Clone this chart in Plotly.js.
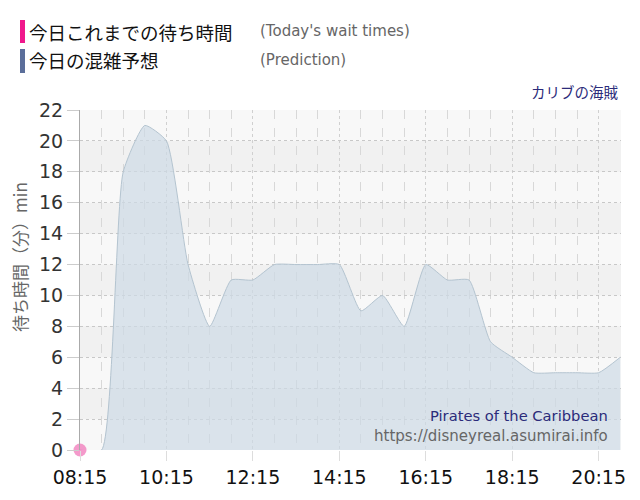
<!DOCTYPE html>
<html>
<head>
<meta charset="utf-8">
<script src="https://cdn.plot.ly/plotly-3.0.1.min.js"></script>
<style>body{margin:0;background:#fff}#chart{width:640px;height:500px}</style>
</head>
<body>
<div id="chart"></div>
<script>
// prediction, every 30 min
var predTimes = ['08:15','08:45','09:15','09:45','10:15','10:45','11:15','11:45','12:15','12:45',
  '13:15','13:45','14:15','14:45','15:15','15:45','16:15','16:45','17:15','17:45',
  '18:15','18:45','19:15','19:45','20:15','20:45'];
var predWaits = [0, 0, 18, 21, 20, 12, 8, 11, 11, 12,
  12, 12, 12, 9, 10, 8, 12, 11, 11, 7,
  6, 5, 5, 5, 5, 6];

// today's actual waits so far
var todayTimes = ['08:15'];
var todayWaits = [0];

var day = '2024-01-01 ';
function toDate(t) { return day + t + ':00'; }

var yTicks = [0, 2, 4, 6, 8, 10, 12, 14, 16, 18, 20, 22];

var W = 541, H = 340, L = 80, B = 450;
function px(x) { return (x - L) / W; }
function py(y) { return (B - y) / H; }

var trace1 = {
  x: predTimes.map(toDate),
  y: predWaits,
  type: 'scatter',
  mode: 'lines',
  line: {color: '#b4c4d0', width: 1, shape: 'spline', smoothing: 0.5},
  fill: 'tozeroy',
  fillcolor: 'rgba(205,218,230,0.7)',
  hoverinfo: 'x+y'
};

var trace2 = {
  x: todayTimes.map(toDate),
  y: todayWaits,
  type: 'scatter',
  mode: 'markers',
  marker: {color: 'rgba(240,120,185,0.75)', size: 13},
  cliponaxis: false
};

// alternating background bands
var shapes = [];
for (var i = 1; i < yTicks.length - 1; i += 2) {
  shapes.push({type: 'rect', xref: 'paper', yref: 'y', x0: 0, x1: 1,
    y0: yTicks[i], y1: yTicks[i + 1], fillcolor: '#f1f1f1', line: {width: 0}, layer: 'below'});
}
shapes.push({type: 'rect', xref: 'paper', yref: 'paper', x0: px(20), x1: px(25), y0: py(43), y1: py(20),
  fillcolor: '#f0188c', line: {width: 0}});
shapes.push({type: 'rect', xref: 'paper', yref: 'paper', x0: px(20), x1: px(25), y0: py(73), y1: py(49),
  fillcolor: '#5b6e9a', line: {width: 0}});

var jp = '"Noto Sans CJK JP", sans-serif';
var annotations = [
  {text: '今日これまでの待ち時間', x: px(27), y: py(32), xref: 'paper', yref: 'paper',
    xanchor: 'left', yanchor: 'middle', showarrow: false, font: {family: jp, size: 18.5, color: '#111'}},
  {text: "(Today's wait times)", x: px(258), y: py(31), xref: 'paper', yref: 'paper',
    xanchor: 'left', yanchor: 'middle', showarrow: false, font: {family: 'DejaVu Sans', size: 15, color: '#666'}},
  {text: '今日の混雑予想', x: px(27), y: py(60), xref: 'paper', yref: 'paper',
    xanchor: 'left', yanchor: 'middle', showarrow: false, font: {family: jp, size: 18.5, color: '#111'}},
  {text: '(Prediction)', x: px(258), y: py(60), xref: 'paper', yref: 'paper',
    xanchor: 'left', yanchor: 'middle', showarrow: false, font: {family: 'DejaVu Sans', size: 15, color: '#666'}},
  {text: 'カリブの海賊', x: px(621), y: py(91), xref: 'paper', yref: 'paper',
    xanchor: 'right', yanchor: 'middle', showarrow: false, font: {family: jp, size: 14.5, color: '#2b2b7a'}},
  {text: 'Pirates of the Caribbean', x: px(610), y: py(415), xref: 'paper', yref: 'paper',
    xanchor: 'right', yanchor: 'middle', showarrow: false, font: {family: 'DejaVu Sans', size: 14.7, color: '#2b2b7a'}},
  {text: 'https://disneyreal.asumirai.info', x: px(610), y: py(436), xref: 'paper', yref: 'paper',
    xanchor: 'right', yanchor: 'middle', showarrow: false, font: {family: 'DejaVu Sans', size: 15, color: '#666'}},
  {text: '待ち時間（分）min', x: px(19), y: py(257), xref: 'paper', yref: 'paper', textangle: -90,
    xanchor: 'center', yanchor: 'middle', showarrow: false, font: {family: jp, size: 17, color: '#666'}}
];

var layout = {
  width: 640, height: 500,
  margin: {l: 80, r: 19, t: 110, b: 50},
  paper_bgcolor: '#fff',
  plot_bgcolor: '#f8f8f8',
  showlegend: false,
  shapes: shapes,
  annotations: annotations,
  xaxis: {
    type: 'date',
    range: [toDate('08:15'), toDate('20:46')],
    tick0: toDate('08:15'),
    dtick: 2 * 3600 * 1000,
    tickformat: '%H:%M',
    ticks: 'outside', ticklen: 10, tickcolor: '#ddd',
    tickfont: {family: 'DejaVu Sans', size: 19, color: '#111'},
    showgrid: true, gridcolor: '#d0d0d0', griddash: 'dot',
    minor: {dtick: 30 * 60 * 1000, tick0: toDate('08:15'), showgrid: true, gridcolor: '#d8d8d8', griddash: 'dash'},
    zeroline: false, showline: false, fixedrange: true
  },
  yaxis: {
    range: [0, 22],
    tickvals: yTicks,
    ticks: 'outside', ticklen: 12, tickcolor: '#ccc',
    tickfont: {family: 'DejaVu Sans', size: 19, color: '#333'},
    showgrid: true, gridcolor: '#c8c8c8', griddash: 'dot',
    zeroline: false,
    showline: true, linecolor: '#aaa', linewidth: 1,
    fixedrange: true
  }
};

Plotly.newPlot('chart', [trace1, trace2], layout, {displayModeBar: false, staticPlot: true});
</script>
</body>
</html>
